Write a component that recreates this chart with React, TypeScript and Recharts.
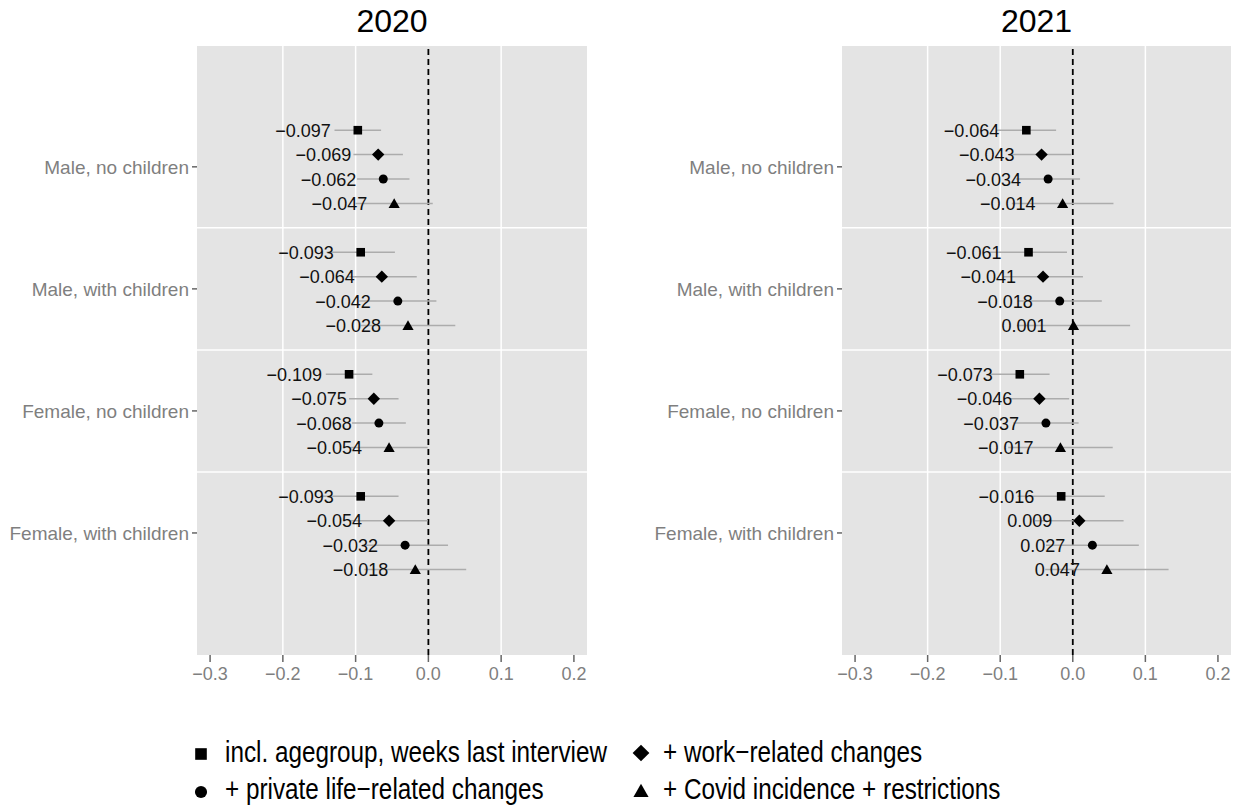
import React from 'react';
import { ScatterChart, Scatter, XAxis, YAxis, CartesianGrid, ReferenceLine, ErrorBar } from 'recharts';

const groups = ['Male, no children', 'Male, with children', 'Female, no children', 'Female, with children'];
const models = [
  'incl. agegroup, weeks last interview',
  '+ work\u2212related changes',
  '+ private life\u2212related changes',
  '+ Covid incidence + restrictions',
];
const modelShapes = ['square', 'diamond', 'circle', 'triangle'];
const xTicks = [-0.3, -0.2, -0.1, 0, 0.1, 0.2];
const years = ['2020', '2021'];

// rows: groups; columns: models (square, diamond, circle, triangle)
const est2020 = [
  [-0.097, -0.069, -0.062, -0.047],
  [-0.093, -0.064, -0.042, -0.028],
  [-0.109, -0.075, -0.068, -0.054],
  [-0.093, -0.054, -0.032, -0.018],
];
const lower2020 = [
  [-0.129, -0.103, -0.098, -0.100],
  [-0.140, -0.112, -0.095, -0.093],
  [-0.141, -0.109, -0.105, -0.107],
  [-0.145, -0.107, -0.091, -0.088],
];
const upper2020 = [
  [-0.065, -0.035, -0.026, 0.006],
  [-0.046, -0.016, 0.011, 0.037],
  [-0.077, -0.041, -0.031, -0.001],
  [-0.041, -0.001, 0.027, 0.052],
];
const est2021 = [
  [-0.064, -0.043, -0.034, -0.014],
  [-0.061, -0.041, -0.018, 0.001],
  [-0.073, -0.046, -0.037, -0.017],
  [-0.016, 0.009, 0.027, 0.047],
];
const lower2021 = [
  [-0.105, -0.084, -0.078, -0.084],
  [-0.114, -0.096, -0.076, -0.077],
  [-0.114, -0.087, -0.082, -0.089],
  [-0.076, -0.052, -0.037, -0.038],
];
const upper2021 = [
  [-0.023, -0.002, 0.010, 0.056],
  [-0.008, 0.014, 0.040, 0.079],
  [-0.032, -0.005, 0.008, 0.055],
  [0.044, 0.070, 0.091, 0.132],
];

const FONT = "'Liberation Sans', Arial, Helvetica, sans-serif";
const PANEL_BG = '#e4e4e4';
const AXIS_GREY = '#7f7f7f';
const TICK_GREY = '#666666';
const CI_GREY = '#acacac';
const DODGE = [0.3, 0.1, -0.1, -0.3];

const fmtVal = (v: number) => v.toFixed(3).replace('-', '\u2212');
const fmtTick = (v: number) => (Math.abs(v) < 1e-9 ? '0.0' : v.toFixed(1)).replace('-', '\u2212');

function Marker({ kind, cx, cy, big }: { kind: string; cx: number; cy: number; big?: boolean }) {
  const k = big ? 1.35 : 1;
  if (kind === 'square') {
    const s = 8.6 * k;
    return <rect x={cx - s / 2} y={cy - s / 2} width={s} height={s} fill="#000" />;
  }
  if (kind === 'diamond') {
    const r = 6.2 * k;
    return <polygon points={`${cx},${cy - r} ${cx + r},${cy} ${cx},${cy + r} ${cx - r},${cy}`} fill="#000" />;
  }
  if (kind === 'circle') {
    return <circle cx={cx} cy={cy} r={4.5 * k} fill="#000" />;
  }
  const w = 5.6 * k;
  return <polygon points={`${cx},${cy - 5.3 * k} ${cx + w},${cy + 4.5 * k} ${cx - w},${cy + 4.5 * k}`} fill="#000" />;
}

const makeShape = (kind: string) => (props: any) => {
  const { cx, cy, payload } = props;
  if (cx == null || cy == null) return <g />;
  return (
    <g>
      <Marker kind={kind} cx={cx} cy={cy} />
      <text x={cx - 27} y={cy} dy="0.36em" textAnchor="end" fontSize={18} fill="#111" fontFamily={FONT}>
        {payload.label}
      </text>
    </g>
  );
};

function YTick(props: any) {
  const { x, y, payload, groupsList } = props;
  const label = groupsList[4 - payload.value];
  return (
    <g>
      <line x1={x + 3} x2={x + 8} y1={y} y2={y} stroke={TICK_GREY} strokeWidth={1.5} />
      <text x={x} y={y} dy="0.355em" textAnchor="end" fontSize={19} fill={AXIS_GREY} fontFamily={FONT}>
        {label}
      </text>
    </g>
  );
}

function buildSeries(est: number[][], lo: number[][], hi: number[][], m: number) {
  return groups.map((g, i) => ({
    group: g,
    x: est[i][m],
    y: 4 - i + DODGE[m],
    err: [est[i][m] - lo[i][m], hi[i][m] - est[i][m]],
    label: fmtVal(est[i][m]),
  }));
}

function Panel({
  est,
  lo,
  hi,
  left,
  width,
  yAxisWidth,
  marginRight,
}: {
  est: number[][];
  lo: number[][];
  hi: number[][];
  left: number;
  width: number;
  yAxisWidth: number;
  marginRight: number;
}) {
  return (
    <div style={{ position: 'absolute', left, top: 0 }}>
      <ScatterChart width={width} height={700} margin={{ top: 46, right: marginRight, bottom: 10, left: 0 }}>
        <CartesianGrid
          fill={PANEL_BG}
          fillOpacity={1}
          stroke="#ffffff"
          strokeWidth={1.5}
          horizontalValues={[1.5, 2.5, 3.5]}
          verticalValues={[-0.2, -0.1, 0.1]}
        />
        <XAxis
          type="number"
          dataKey="x"
          domain={[-0.318, 0.218]}
          allowDataOverflow
          ticks={xTicks}
          interval={0}
          tickFormatter={fmtTick}
          axisLine={false}
          tickSize={7}
          tickMargin={5}
          height={35}
          tick={{ fill: AXIS_GREY, fontSize: 18, fontFamily: FONT }}
          tickLine={{ stroke: TICK_GREY, strokeWidth: 1.5 }}
        />
        <YAxis
          type="number"
          dataKey="y"
          domain={[0, 4.99]}
          allowDataOverflow
          ticks={[1, 2, 3, 4]}
          interval={0}
          axisLine={false}
          tickLine={false}
          tickSize={5}
          tickMargin={3}
          width={yAxisWidth}
          tick={<YTick groupsList={groups} />}
        />
        <ReferenceLine x={0} stroke="#000" strokeWidth={1.8} strokeDasharray="6 4" />
        {models.map((m, k) => (
          <Scatter
            key={m}
            name={m}
            data={buildSeries(est, lo, hi, k)}
            shape={makeShape(modelShapes[k])}
            isAnimationActive={false}
          >
            <ErrorBar dataKey="err" direction="x" width={0} stroke={CI_GREY} strokeWidth={1.5} isAnimationActive={false} />
          </Scatter>
        ))}
      </ScatterChart>
    </div>
  );
}

function Overlay() {
  const legendItems = [
    { k: 0, sx: 201, sy: 754, tx: 225, ty: 762 },
    { k: 1, sx: 641, sy: 753, tx: 663, ty: 762 },
    { k: 2, sx: 201, sy: 792, tx: 225, ty: 799 },
    { k: 3, sx: 641, sy: 791, tx: 663, ty: 799 },
  ];
  return (
    <svg width={1234} height={807} style={{ position: 'absolute', left: 0, top: 0, pointerEvents: 'none' }}>
      <text x={392} y={32} textAnchor="middle" fontSize={32} fill="#000" fontFamily={FONT}>
        {years[0]}
      </text>
      <text x={1036.5} y={32} textAnchor="middle" fontSize={32} fill="#000" fontFamily={FONT}>
        {years[1]}
      </text>
      {legendItems.map((it) => (
        <g key={it.k}>
          <Marker kind={modelShapes[it.k]} cx={it.sx} cy={it.sy} big />
          <g transform={`translate(${it.tx},${it.ty}) scale(0.81,1)`}>
            <text x={0} y={0} fontSize={30} fill="#000" fontFamily={FONT}>
              {models[it.k]}
            </text>
          </g>
        </g>
      ))}
    </svg>
  );
}

export default function App() {
  return (
    <div
      style={{
        position: 'absolute',
        left: 0,
        top: 0,
        width: 1234,
        height: 807,
        background: '#ffffff',
        fontFamily: FONT,
        overflow: 'hidden',
      }}
    >
      <Panel est={est2020} lo={lower2020} hi={upper2020} left={0} width={600} yAxisWidth={197} marginRight={13} />
      <Panel est={est2021} lo={lower2021} hi={upper2021} left={617} width={617} yAxisWidth={225} marginRight={3} />
      <Overlay />
    </div>
  );
}
